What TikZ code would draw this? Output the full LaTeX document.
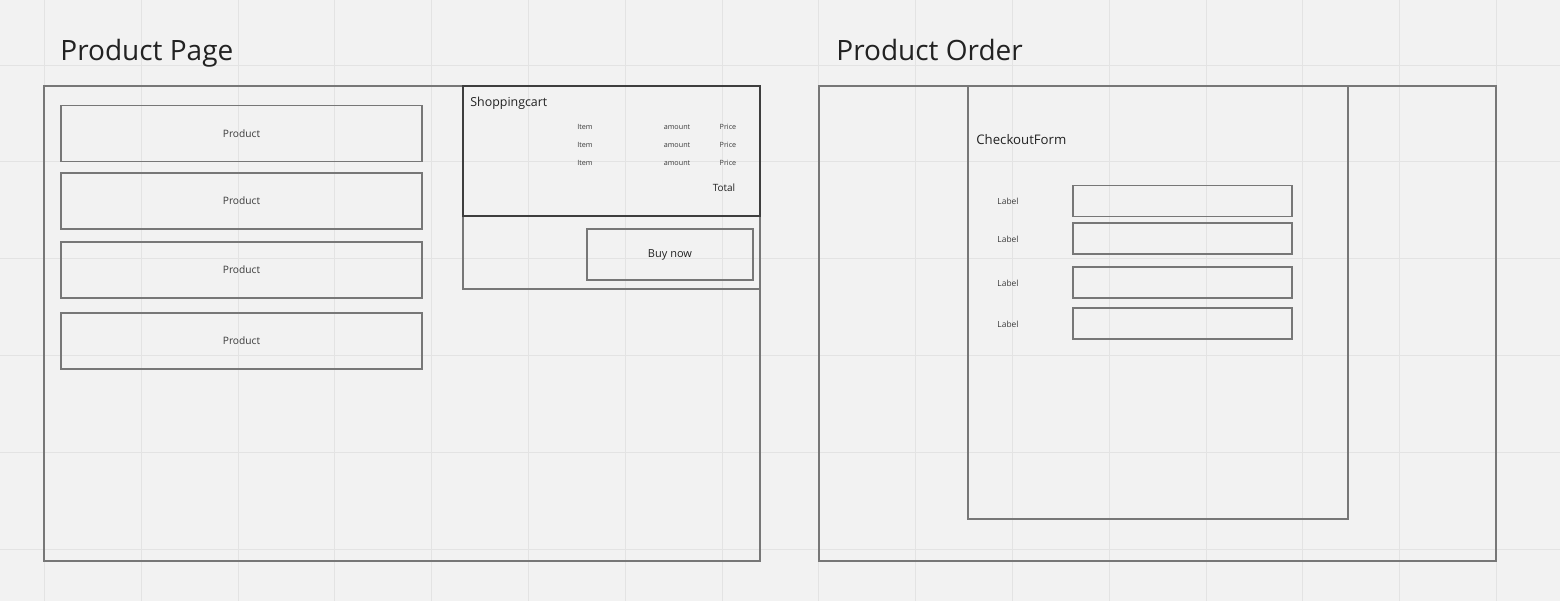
\documentclass[tikz,border=0pt]{standalone}
\usepackage{fontspec}
\setmainfont{Open Sans}
\definecolor{paper}{HTML}{F2F2F2}
\definecolor{gridline}{HTML}{E3E3E3}
\definecolor{frame}{HTML}{777777}
\definecolor{cartframe}{HTML}{3E3E3E}
\definecolor{ink}{HTML}{222222}
\definecolor{softink}{HTML}{3A3A3A}

\begin{document}
\begin{tikzpicture}[x=0.5pt, y=-0.5pt,
    frame/.style ={draw=frame, line width=0.55pt, inner sep=0pt},
    product/.style ={frame, minimum width=180.5pt, minimum height=28pt, font=\fontsize{5.1}{6}\selectfont, text=softink},
    field/.style ={frame, minimum width=109.5pt, minimum height=15.5pt},
    label/.style ={font=\fontsize{4.2}{5}\selectfont, text=softink, inner sep=0pt},
    cell/.style ={font=\fontsize{3.6}{4}\selectfont, text=softink, inner sep=0pt, anchor=base},
    title/.style ={font=\fontsize{14}{17}\selectfont, text=ink, anchor=base west, inner sep=0pt}]
   % canvas and board grid
   \fill[paper] (0,0) rectangle (1560,601);
   \useasboundingbox (0,0) rectangle (1560,601);
   \foreach \i in {0,...,15}
     \draw[gridline, line width=0.5pt] (44.5+96.8*\i,0) -- (44.5+96.8*\i,601);
   \foreach \j in {0,...,5}
     \draw[gridline, line width=0.5pt] (0,65+96.8*\j) -- (1560,65+96.8*\j);

   % product page
   \node[title] (pagetitle) at (60,60) {Product Page};
   \node[frame, minimum width=358pt, minimum height=237.5pt] (page) at (402,323.5) {};
   \node[product] (P1) at (241.5,133.5) {Product};
   \node[product] (P2) at (241.5,201) {Product};
   \node[product] (P3) at (241.5,270) {Product};
   \node[product] (P4) at (241.5,341) {Product};
   \node[frame, minimum width=148.5pt, minimum height=36.5pt] (cartfoot) at (611.5,252.5) {};
   \node[frame, draw=cartframe, minimum width=148.5pt, minimum height=65pt] (cart) at (611.5,151) {};
   \node[anchor=base west, inner sep=0pt, text=ink, font=\fontsize{6.2}{8}\selectfont] (carttitle) at (470,106) {Shoppingcart};
   \node[cell] (I1) at (585,129) {Item};
   \node[cell] (A1) at (677,129) {amount};
   \node[cell] (R1) at (728,129) {Price};
   \node[cell] (I2) at (585,147) {Item};
   \node[cell] (A2) at (677,147) {amount};
   \node[cell] (R2) at (728,147) {Price};
   \node[cell] (I3) at (585,165) {Item};
   \node[cell] (A3) at (677,165) {amount};
   \node[cell] (R3) at (728,165) {Price};
   \node[inner sep=0pt, text=ink, font=\fontsize{5}{6}\selectfont] (total) at (724,187.5) {Total};
   \node[frame, minimum width=83pt, minimum height=25.5pt, text=ink, font=\fontsize{5.5}{6}\selectfont] (buy) at (670,254.5) {Buy now};

   % product order
   \node[title] (ordertitle) at (836,60) {Product Order};
   \node[frame, minimum width=338.5pt, minimum height=237.5pt] (order) at (1157.5,323.5) {};
   \node[frame, minimum width=190pt, minimum height=216.5pt] (form) at (1158,302.5) {};
   \node[anchor=base west, inner sep=0pt, text=ink, font=\fontsize{6.6}{8}\selectfont] (formtitle) at (976,144) {CheckoutForm};
   \node[field] (F1) at (1182.5,201) {};
   \node[field] (F2) at (1182.5,238.5) {};
   \node[field] (F3) at (1182.5,282.5) {};
   \node[field] (F4) at (1182.5,323.5) {};
   \node[label] (L1) at (1008,201.5) {Label};
   \node[label] (L2) at (1008,239) {Label};
   \node[label] (L3) at (1008,283) {Label};
   \node[label] (L4) at (1008,324) {Label};
 \end{tikzpicture}
\end{document}
